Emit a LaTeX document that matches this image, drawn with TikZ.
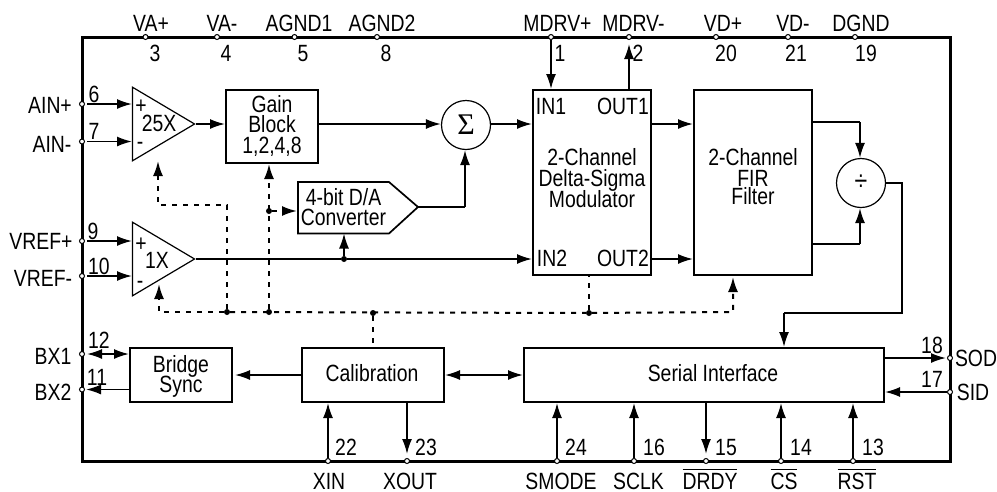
\documentclass[tikz,border=0pt]{standalone}
\usepackage{fontspec}
\setmainfont[FakeStretch=0.825]{Liberation Sans}
\newfontfamily\serifsym{Liberation Serif}
\newcommand{\barred}[1]{$\overline{\mbox{\rule{0pt}{18.5pt}#1}}$}
\usetikzlibrary{arrows.meta,shapes.geometric}
\tikzset{
  pinhole/.style={circle, draw, fill=white, line width=1pt, inner sep=0pt, minimum size=5pt},
  junct/.style={circle, fill, inner sep=0pt, minimum size=6pt},
  blockbox/.style={rectangle, draw, line width=2pt, inner sep=0pt},
  circbox/.style={circle, draw, line width=1.2pt, inner sep=0pt, minimum size=49pt},
  ampbox/.style={isosceles triangle, isosceles triangle stretches, draw, line width=1.2pt, inner sep=0pt, minimum width=73.5pt, minimum height=62pt},
  txt/.style={inner sep=0pt, text height=17pt, text depth=0pt},
  mtxt/.style={inner sep=0pt, align=center},
  sig/.style={line width=1.7pt, -{Latex[length=15pt,width=10pt]}},
  sigboth/.style={line width=1.7pt, {Latex[length=15pt,width=10pt]}-{Latex[length=15pt,width=10pt]}},
  wire/.style={line width=1.7pt},
  dsig/.style={line width=2pt, dash pattern=on 5pt off 6pt, -{Latex[length=15pt,width=10pt]}},
  dwire/.style={line width=2pt, dash pattern=on 5pt off 6pt},
}
\begin{document}
\begin{tikzpicture}[x=1pt, y=-1pt, font=\fontsize{23.5}{22}\selectfont]
\useasboundingbox (0,0) rectangle (997,491);
\node[blockbox, line width=3pt, minimum width=868pt, minimum height=424pt] (chipFrame) at (516,249){};

\node[ampbox] (ampGain) at (153.5,124){};
\node[ampbox] (ampRef) at (153.5,259){};
\node[blockbox, minimum width=92pt, minimum height=73pt, align=center] (gainBlock) at (272,126.5){};
\node[circbox] (sumNode) at (466,125){\fontsize{30}{30}\serifsym Σ};
\node[circbox] (divNode) at (861,183){\fontsize{28}{28}\selectfont ÷};
\node[blockbox, minimum width=118pt, minimum height=185pt] (modBox) at (592,182.5){};
\node[blockbox, minimum width=118pt, minimum height=185pt] (firBox) at (753,182.5){};
\node[blockbox, minimum width=102pt, minimum height=54pt] (bridgeBox) at (181,375){};
\node[blockbox, minimum width=142pt, minimum height=54pt] (calBox) at (373,375){};
\node[blockbox, minimum width=360pt, minimum height=54pt] (serialBox) at (704,375){};
\coordinate (dacNW) at (298,182);
\coordinate (dacNE) at (389,182);
\coordinate (dacTip) at (418,207);
\coordinate (dacSE) at (389,233.5);
\coordinate (dacSW) at (298,233.5);
\draw[line width=1.7pt] (dacNW) -- (dacNE) -- (dacTip) -- (dacSE) -- (dacSW) -- cycle;

\node[pinhole] (pinVAp) at (145.5,37){};
\node[pinhole] (pinVAm) at (217,37){};
\node[pinhole] (pinAgndA) at (294.5,37){};
\node[pinhole] (pinAgndB) at (377,37){};
\node[pinhole] (pinMdrvP) at (551,37){};
\node[pinhole] (pinMdrvM) at (629,37){};
\node[pinhole] (pinVDp) at (716,37){};
\node[pinhole] (pinVDm) at (788,37){};
\node[pinhole] (pinDgnd) at (855,37){};
\node[pinhole] (pinAinP) at (82,104){};
\node[pinhole] (pinAinM) at (82,141.5){};
\node[pinhole] (pinRefP) at (82,241){};
\node[pinhole] (pinRefM) at (82,276){};
\node[pinhole] (pinBxA) at (82,354){};
\node[pinhole] (pinBxB) at (82,389.5){};
\node[pinhole] (pinXin) at (328,461){};
\node[pinhole] (pinXout) at (407,461){};
\node[pinhole] (pinSmode) at (557,461){};
\node[pinhole] (pinSclk) at (634,461){};
\node[pinhole] (pinDrdy) at (706,461){};
\node[pinhole] (pinCs) at (781,461){};
\node[pinhole] (pinRst) at (853,461){};
\node[pinhole] (pinSod) at (950,358){};
\node[pinhole] (pinSid) at (950,392){};

\node[txt] (lblVAp) at (151,23){VA+};
\node[txt] (lblVAm) at (222,23){VA-};
\node[txt] (lblAgndA) at (299,23){AGND1};
\node[txt] (lblAgndB) at (382,23){AGND2};
\node[txt] (lblMdrvP) at (557.5,23){MDRV+};
\node[txt] (lblMdrvM) at (633.5,23){MDRV-};
\node[txt] (lblVDp) at (723,23){VD+};
\node[txt] (lblVDm) at (793,23){VD-};
\node[txt] (lblDgnd) at (861,23){DGND};
\node[txt] (numVAp) at (155,53){3};
\node[txt] (numVAm) at (226,53){4};
\node[txt] (numAgndA) at (303,53){5};
\node[txt] (numAgndB) at (386,53){8};
\node[txt] (numMdrvP) at (560,53){1};
\node[txt] (numMdrvM) at (638,53){2};
\node[txt] (numVDp) at (726,53){20};
\node[txt] (numVDm) at (796,53){21};
\node[txt] (numDgnd) at (866,53){19};

\node[txt] (lblAinP) at (50,105){AIN+};
\node[txt] (lblAinM) at (52,144){AIN-};
\node[txt] (lblRefP) at (41,241){VREF+};
\node[txt] (lblRefM) at (43,278){VREF-};
\node[txt] (lblBxA) at (53,356){BX1};
\node[txt] (lblBxB) at (53,392){BX2};
\node[txt] (numAinP) at (94,94){6};
\node[txt] (numAinM) at (94,131){7};
\node[txt] (numRefP) at (93,231){9};
\node[txt] (numRefM) at (99,266){10};
\node[txt] (numBxA) at (99,340){12};
\node[txt] (numBxB) at (97,377){11};

\node[txt] (lblXin) at (329,480.5){XIN};
\node[txt] (lblXout) at (410,480.5){XOUT};
\node[txt] (lblSmode) at (561,480.5){SMODE};
\node[txt] (lblSclk) at (638.5,480.5){SCLK};
\node[txt] (lblDrdy) at (710,480.5){\barred{DRDY}};
\node[txt] (lblCs) at (784,480.5){\barred{CS}};
\node[txt] (lblRst) at (857,480.5){\barred{RST}};
\node[txt] (numXin) at (346,447){22};
\node[txt] (numXout) at (426,447){23};
\node[txt] (numSmode) at (576,447){24};
\node[txt] (numSclk) at (654,447){16};
\node[txt] (numDrdy) at (726,447){15};
\node[txt] (numCs) at (801,447){14};
\node[txt] (numRst) at (873,447){13};
\node[txt] (lblSod) at (976,358){SOD};
\node[txt] (lblSid) at (973,392){SID};
\node[txt] (numSod) at (932,345){18};
\node[txt] (numSid) at (932,379){17};

\node[txt] (ampGainP) at (141,105){+};
\node[txt] (ampGainT) at (159,123){25X};
\node[txt] (ampGainM) at (140,141){-};
\node[txt] (ampRefP) at (141,243){+};
\node[txt] (ampRefT) at (157,260){1X};
\node[txt] (ampRefM) at (140,280){-};
\node[mtxt] (gainText) at (272,126){Gain\\[-2.5pt]Block\\[-1pt]1,2,4,8};
\node[mtxt] (dacText) at (343.5,207){4-bit D/A\\[-2pt]Converter};
\node[txt] (lblInA) at (551,106){IN1};
\node[txt] (lblOutA) at (623,106){OUT1};
\node[txt] (lblInB) at (552,258){IN2};
\node[txt] (lblOutB) at (623,258){OUT2};
\node[mtxt] (modText) at (592,178.5){2-Channel\\[-1pt]Delta-Sigma\\[-1pt]Modulator};
\node[mtxt] (firText) at (753,176.5){2-Channel\\[-1pt]FIR\\[-4pt]Filter};
\node[mtxt] (bridgeText) at (181,376){Bridge\\[-2pt]Sync};
\node[txt] (calText) at (372,373){Calibration};
\node[txt] (serialText) at (713,373){Serial Interface};

\node[junct] (jctDac) at (269,211){};
\node[junct] (jctRef) at (344,259){};
\node[junct] (jctA) at (227,312){};
\node[junct] (jctB) at (269,312){};
\node[junct] (jctC) at (373,313){};
\node[junct] (jctD) at (589,313){};
\coordinate (gainCtl) at (158,205);
\coordinate (ampCtl) at (159,312);
\coordinate (firCtl) at (733,312);
\coordinate (dacBot) at (465,207);
\coordinate (firTop) at (860,122);
\coordinate (firBot) at (860,244);
\coordinate (divOut) at (902,183);
\coordinate (divLow) at (902,313);
\coordinate (serIn) at (784,313);

\draw[sig, shorten <=2pt](pinAinP) -- (132,104);
\draw[sig, shorten <=2pt](pinAinM) -- (132,141.5);
\draw[sig, shorten <=2pt](pinRefP) -- (132,241);
\draw[sig, shorten <=2pt](pinRefM) -- (132,276);
\draw[sig](ampGain.apex) -- (ampGain.apex -| gainBlock.west);
\draw[sig](ampGain.apex -| gainBlock.east) -- (ampGain.apex -| sumNode.west);
\draw[sig](ampGain.apex -| sumNode.east) -- (ampGain.apex -| modBox.west);
\draw[wire](dacTip) -- (dacBot);
\draw[sig](dacBot) -- (dacBot |- sumNode.south);
\draw[wire](ampRef.apex) -- (jctRef);
\draw[sig](jctRef) -- (jctRef |- dacSW);
\draw[sig](jctRef) -- (jctRef -| modBox.west);
\draw[sig](pinMdrvP) -- (pinMdrvP |- modBox.north);
\draw[sig, shorten >=4pt](pinMdrvM |- modBox.north) -- (pinMdrvM);
\draw[sig](ampGain.apex -| modBox.east) -- (ampGain.apex -| firBox.west);
\draw[sig](jctRef -| modBox.east) -- (jctRef -| firBox.west);
\draw[wire](firTop -| firBox.east) -- (firTop);
\draw[sig](firTop) -- (firTop |- divNode.north);
\draw[wire](firBot -| firBox.east) -- (firBot);
\draw[sig](firBot) -- (firBot |- divNode.south);
\draw[wire](divNode.east) -- (divOut) -- (divLow) -- (serIn);
\draw[sig](serIn) -- (serIn |- serialBox.north);

\draw[sigboth, shorten <=2pt](pinBxA) -- (pinBxA -| bridgeBox.west);
\draw[sig, shorten >=1pt](pinBxB -| bridgeBox.west) -- (pinBxB);
\draw[sig, shorten >=2pt](calBox.west) -- (bridgeBox.east);
\draw[sigboth](calBox.east) -- (serialBox.west);
\draw[sig](pinXin) -- (pinXin |- calBox.south);
\draw[sig, shorten >=4pt](pinXout |- calBox.south) -- (pinXout);
\draw[sig](pinSmode) -- (pinSmode |- serialBox.south);
\draw[sig](pinSclk) -- (pinSclk |- serialBox.south);
\draw[sig, shorten >=4pt](pinDrdy |- serialBox.south) -- (pinDrdy);
\draw[sig](pinCs) -- (pinCs |- serialBox.south);
\draw[sig](pinRst) -- (pinRst |- serialBox.south);
\draw[sig, shorten >=1pt](pinSod -| serialBox.east) -- (pinSod);
\draw[sig](pinSid) -- (pinSid -| serialBox.east);

\draw[dsig](jctA) -- (jctA |- gainCtl) -- (gainCtl) -- (158,161);
\draw[dsig](jctB) -- (269,164);
\draw[dsig](jctDac) -- (297,211);
\draw[dsig](jctA) -- (ampCtl) -- (159,284);
\draw[dwire](jctA) -- (jctD);
\draw[dsig](jctD) -- (firCtl) -- (733,277);
\draw[dwire](jctC) -- (jctC |- calBox.north);
\draw[dwire](jctD) -- (jctD |- modBox.south);
\end{tikzpicture}
\end{document}
